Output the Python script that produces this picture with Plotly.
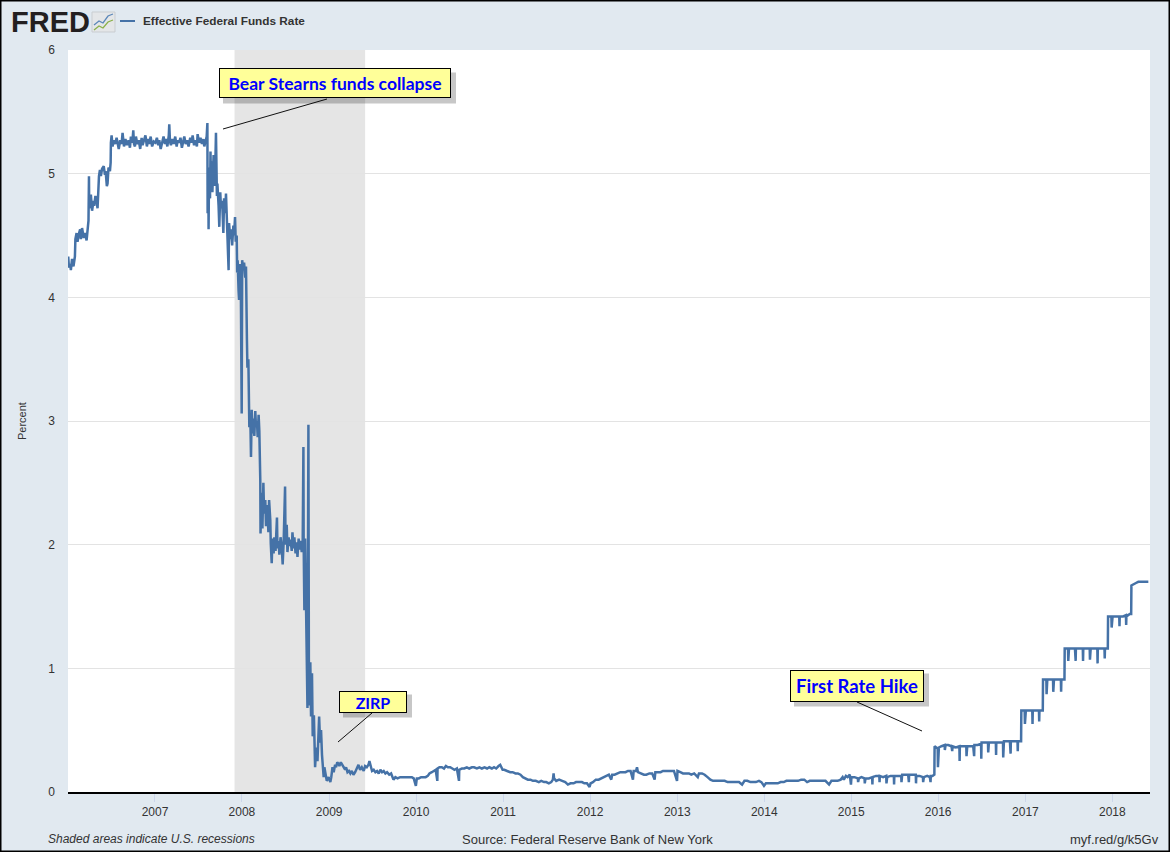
import plotly.graph_objects as go

# ---------------- data ----------------
p2006 = [("2006-01-02",4.33),("2006-01-05",4.24),("2006-01-10",4.27),("2006-01-13",4.22),("2006-01-18",4.31),
         ("2006-01-24",4.25),("2006-01-30",4.33),("2006-02-01",4.47),("2006-02-06",4.52),("2006-02-10",4.45),
         ("2006-02-15",4.51),("2006-02-21",4.55),("2006-02-24",4.47),("2006-03-01",4.56),("2006-03-08",4.48),
         ("2006-03-14",4.52),("2006-03-20",4.46),("2006-03-24",4.53),("2006-03-28",4.62),("2006-03-30",4.98),
         ("2006-03-31",4.72),("2006-04-04",4.77),("2006-04-07",4.83),("2006-04-12",4.70),("2006-04-18",4.78),
         ("2006-04-21",4.74),("2006-04-26",4.82),("2006-05-01",4.78),("2006-05-05",4.72),("2006-05-11",4.98),
         ("2006-05-15",5.03),("2006-05-19",4.98),("2006-05-24",5.04),("2006-05-31",5.06),("2006-06-05",4.99),
         ("2006-06-08",5.02),("2006-06-13",4.90),("2006-06-16",4.92),("2006-06-20",5.05),("2006-06-26",5.02),
         ("2006-06-29",5.09),("2006-06-30",5.25),("2006-07-03",5.31),("2006-07-07",5.22),("2006-07-12",5.27),
         ("2006-07-18",5.24),("2006-07-24",5.29),("2006-07-28",5.25),("2006-08-02",5.20),("2006-08-08",5.27),
         ("2006-08-14",5.24),("2006-08-18",5.33),("2006-08-24",5.22),("2006-08-30",5.28),("2006-09-05",5.23),
         ("2006-09-12",5.27),("2006-09-18",5.21),("2006-09-22",5.30),("2006-09-28",5.25),("2006-10-02",5.35),
         ("2006-10-05",5.24),("2006-10-09",5.22),("2006-10-13",5.30),("2006-10-19",5.24),("2006-10-25",5.27),
         ("2006-10-31",5.20),("2006-11-06",5.29),("2006-11-10",5.23),("2006-11-16",5.27),("2006-11-22",5.31),
         ("2006-11-28",5.22),("2006-12-04",5.28),("2006-12-08",5.24),("2006-12-14",5.30),("2006-12-20",5.22),
         ("2006-12-27",5.26)]

p2007 = [("2007-01-03",5.25),("2007-01-09",5.29),("2007-01-15",5.23),("2007-01-19",5.27),("2007-01-25",5.20),
         ("2007-01-31",5.26),("2007-02-06",5.30),("2007-02-12",5.24),("2007-02-16",5.28),("2007-02-22",5.22),
         ("2007-02-28",5.31),("2007-03-02",5.40),("2007-03-05",5.26),("2007-03-09",5.23),("2007-03-15",5.28),
         ("2007-03-21",5.24),("2007-03-27",5.30),("2007-04-02",5.22),("2007-04-06",5.27),("2007-04-12",5.25),
         ("2007-04-18",5.29),("2007-04-24",5.21),("2007-04-30",5.26),("2007-05-04",5.30),("2007-05-10",5.24),
         ("2007-05-16",5.27),("2007-05-22",5.22),("2007-05-29",5.29),("2007-06-04",5.25),("2007-06-08",5.31),
         ("2007-06-14",5.23),("2007-06-20",5.27),("2007-06-26",5.22),("2007-06-29",5.32),("2007-07-05",5.25),
         ("2007-07-11",5.29),("2007-07-17",5.24),("2007-07-23",5.28),("2007-07-27",5.22),("2007-08-01",5.27),
         ("2007-08-06",5.30),("2007-08-09",5.41),("2007-08-10",4.68),("2007-08-13",5.02),("2007-08-14",4.55),
         ("2007-08-16",5.05),("2007-08-20",4.80),("2007-08-22",5.18),("2007-08-24",4.92),("2007-08-28",5.10),
         ("2007-08-30",4.85),("2007-09-04",5.15),("2007-09-07",4.90),("2007-09-11",5.05),("2007-09-14",5.33),
         ("2007-09-18",4.82),("2007-09-20",4.92),("2007-09-25",4.74),("2007-09-28",4.57),("2007-10-02",4.85),
         ("2007-10-05",4.72),("2007-10-10",4.78),("2007-10-15",4.52),("2007-10-18",4.80),("2007-10-23",4.68),
         ("2007-10-26",4.84),("2007-10-31",4.62),("2007-11-02",4.50),("2007-11-06",4.22),("2007-11-08",4.60),
         ("2007-11-13",4.47),("2007-11-16",4.55),("2007-11-21",4.42),("2007-11-26",4.58),("2007-11-29",4.50),
         ("2007-12-03",4.65),("2007-12-06",4.45),("2007-12-10",4.50),("2007-12-12",4.20),("2007-12-14",4.30),
         ("2007-12-18",4.05),("2007-12-20",3.98),("2007-12-24",4.27),("2007-12-27",4.18),("2007-12-31",3.06)]

p2008 = [("2008-01-02",4.30),("2008-01-07",4.22),("2008-01-10",4.28),("2008-01-15",4.16),("2008-01-18",4.25),
         ("2008-01-22",3.65),("2008-01-24",3.43),("2008-01-28",3.50),("2008-01-30",3.03),("2008-02-01",2.95),
         ("2008-02-05",3.05),("2008-02-08",2.71),("2008-02-11",3.09),("2008-02-14",2.90),("2008-02-19",3.02),
         ("2008-02-22",2.88),("2008-02-26",3.08),("2008-02-29",2.95),("2008-03-04",3.00),("2008-03-07",2.87),
         ("2008-03-11",3.05),("2008-03-14",2.92),("2008-03-18",2.52),("2008-03-19",2.09),("2008-03-24",2.42),
         ("2008-03-27",2.13),("2008-03-31",2.50),("2008-04-03",2.25),("2008-04-08",2.36),("2008-04-11",2.15),
         ("2008-04-16",2.32),("2008-04-21",2.10),("2008-04-24",2.36),("2008-04-29",2.20),("2008-05-01",2.01),
         ("2008-05-05",1.85),("2008-05-08",2.05),("2008-05-13",1.93),("2008-05-16",2.06),("2008-05-21",1.95),
         ("2008-05-27",2.22),("2008-05-29",1.97),("2008-06-03",2.03),("2008-06-06",1.92),("2008-06-11",2.06),
         ("2008-06-16",1.98),("2008-06-20",1.84),("2008-06-24",2.02),("2008-06-30",2.47),("2008-07-02",2.00),
         ("2008-07-07",2.16),("2008-07-10",1.94),("2008-07-15",2.06),("2008-07-18",1.99),("2008-07-23",2.04),
         ("2008-07-28",1.95),("2008-07-31",2.10),("2008-08-05",1.97),("2008-08-08",2.06),("2008-08-13",1.93),
         ("2008-08-18",2.02),("2008-08-21",1.90),("2008-08-26",2.05),("2008-08-29",1.96),("2008-09-03",2.03),
         ("2008-09-08",1.94),("2008-09-12",2.02),("2008-09-15",2.79),("2008-09-16",2.02),("2008-09-19",1.47),
         ("2008-09-22",2.05),("2008-09-25",1.30),("2008-09-29",1.09),("2008-10-02",0.68),("2008-10-06",2.97),
         ("2008-10-08",0.95),("2008-10-10",0.70),("2008-10-14",1.05),("2008-10-17",0.61),("2008-10-21",0.96),
         ("2008-10-24",0.45),("2008-10-29",0.62),("2008-11-03",0.20),("2008-11-06",0.30),("2008-11-10",0.36),
         ("2008-11-13",0.25),("2008-11-17",0.42),("2008-11-20",0.61),("2008-11-24",0.40),("2008-11-28",0.50),
         ("2008-12-02",0.30),("2008-12-05",0.18),("2008-12-09",0.12),("2008-12-12",0.20),("2008-12-17",0.14),
         ("2008-12-22",0.09),("2008-12-30",0.12)]

p2009 = [("2009-01-02",0.10),("2009-01-06",0.08),("2009-01-10",0.12),("2009-01-15",0.20),("2009-01-20",0.16),
         ("2009-01-26",0.22),("2009-01-30",0.20),("2009-02-04",0.24),("2009-02-09",0.23),("2009-02-13",0.21),
         ("2009-02-19",0.24),("2009-02-25",0.22),("2009-03-03",0.20),("2009-03-09",0.18),("2009-03-13",0.20),
         ("2009-03-19",0.16),("2009-03-25",0.17),("2009-03-31",0.15),("2009-04-06",0.17),("2009-04-13",0.14),
         ("2009-04-20",0.16),("2009-04-27",0.19),("2009-05-04",0.22),("2009-05-11",0.18),("2009-05-18",0.20),
         ("2009-05-26",0.17),("2009-06-01",0.21),("2009-06-08",0.20),("2009-06-15",0.22),("2009-06-19",0.25),
         ("2009-06-24",0.21),("2009-06-30",0.17),("2009-07-07",0.18),("2009-07-14",0.16),("2009-07-21",0.17),
         ("2009-07-28",0.15),("2009-08-04",0.18),("2009-08-11",0.16),("2009-08-18",0.17),("2009-08-25",0.15),
         ("2009-09-01",0.16),("2009-09-10",0.14),("2009-09-18",0.15),("2009-09-28",0.10),("2009-10-06",0.12),
         ("2009-10-15",0.11),("2009-10-26",0.12),("2009-11-03",0.12),("2009-11-12",0.12),("2009-11-24",0.12),
         ("2009-12-03",0.12),("2009-12-14",0.12),("2009-12-22",0.11),("2009-12-31",0.05)]

p2010 = [("2010-01-04",0.11),("2010-01-12",0.11),("2010-01-22",0.12),("2010-02-01",0.12),("2010-02-10",0.12),
         ("2010-02-19",0.13),("2010-02-26",0.15),("2010-03-08",0.16),("2010-03-15",0.17),("2010-03-24",0.18),
         ("2010-03-31",0.09),("2010-04-01",0.19),("2010-04-09",0.20),("2010-04-19",0.20),("2010-04-28",0.19),
         ("2010-05-06",0.21),("2010-05-14",0.20),("2010-05-24",0.20),("2010-06-02",0.19),("2010-06-11",0.18),
         ("2010-06-21",0.19),("2010-06-30",0.09),("2010-07-01",0.18),("2010-07-12",0.19),("2010-07-22",0.19),
         ("2010-08-02",0.20),("2010-08-12",0.19),("2010-08-23",0.20),("2010-09-01",0.20),("2010-09-13",0.19),
         ("2010-09-24",0.20),("2010-10-04",0.19),("2010-10-15",0.20),("2010-10-26",0.19),("2010-11-04",0.20),
         ("2010-11-15",0.19),("2010-11-24",0.20),("2010-12-03",0.19),("2010-12-13",0.21),("2010-12-20",0.22),
         ("2010-12-30",0.18)]

p2011 = [("2011-01-06",0.18),("2011-01-18",0.17),("2011-01-31",0.16),("2011-02-10",0.16),("2011-02-22",0.15),
         ("2011-03-04",0.15),("2011-03-15",0.14),("2011-03-25",0.12),("2011-04-05",0.11),("2011-04-15",0.10),
         ("2011-04-26",0.10),("2011-05-06",0.09),("2011-05-18",0.09),("2011-05-31",0.08),("2011-06-10",0.09),
         ("2011-06-22",0.08),("2011-07-01",0.08),("2011-07-12",0.07),("2011-07-22",0.08),("2011-07-29",0.10),
         ("2011-08-01",0.15),("2011-08-03",0.11),("2011-08-12",0.09),("2011-08-24",0.10),("2011-09-06",0.09),
         ("2011-09-19",0.08),("2011-09-30",0.06),("2011-10-11",0.07),("2011-10-24",0.07),("2011-11-03",0.08),
         ("2011-11-15",0.08),("2011-11-28",0.08),("2011-12-08",0.07),("2011-12-19",0.07),("2011-12-30",0.04)]

p2012 = [("2012-01-03",0.07),("2012-01-13",0.08),("2012-01-25",0.10),("2012-02-06",0.10),("2012-02-16",0.11),
         ("2012-02-28",0.12),("2012-03-09",0.13),("2012-03-20",0.14),("2012-03-30",0.10),("2012-04-03",0.14),
         ("2012-04-13",0.14),("2012-04-25",0.15),("2012-05-07",0.16),("2012-05-17",0.16),("2012-05-29",0.16),
         ("2012-06-08",0.17),("2012-06-19",0.17),("2012-06-29",0.10),("2012-07-02",0.17),("2012-07-12",0.17),
         ("2012-07-16",0.20),("2012-07-20",0.16),("2012-08-01",0.15),("2012-08-14",0.14),("2012-08-24",0.14),
         ("2012-09-06",0.15),("2012-09-18",0.15),("2012-09-28",0.10),("2012-10-01",0.16),("2012-10-11",0.16),
         ("2012-10-23",0.16),("2012-11-02",0.17),("2012-11-14",0.17),("2012-11-26",0.17),("2012-12-06",0.17),
         ("2012-12-18",0.17),("2012-12-31",0.09)]

p2013 = [("2013-01-02",0.17),("2013-01-14",0.16),("2013-01-25",0.15),("2013-02-06",0.15),("2013-02-19",0.15),
         ("2013-03-01",0.14),("2013-03-13",0.15),("2013-03-28",0.12),("2013-04-02",0.15),("2013-04-15",0.15),
         ("2013-04-26",0.14),("2013-05-08",0.12),("2013-05-20",0.10),("2013-05-31",0.09),("2013-06-12",0.09),
         ("2013-06-25",0.09),("2013-07-08",0.09),("2013-07-19",0.09),("2013-07-31",0.08),("2013-08-12",0.08),
         ("2013-08-23",0.08),("2013-09-05",0.08),("2013-09-17",0.08),("2013-09-30",0.06),("2013-10-10",0.09),
         ("2013-10-22",0.09),("2013-11-04",0.08),("2013-11-15",0.08),("2013-11-27",0.08),("2013-12-10",0.09),
         ("2013-12-20",0.08),("2013-12-31",0.05)]

p2014 = [("2014-01-08",0.07),("2014-01-21",0.07),("2014-02-03",0.07),("2014-02-14",0.07),("2014-02-27",0.07),
         ("2014-03-11",0.08),("2014-03-24",0.08),("2014-04-04",0.09),("2014-04-17",0.09),("2014-04-30",0.09),
         ("2014-05-12",0.09),("2014-05-23",0.09),("2014-06-05",0.10),("2014-06-18",0.10),("2014-06-30",0.08),
         ("2014-07-11",0.09),("2014-07-24",0.09),("2014-08-06",0.09),("2014-08-19",0.09),("2014-09-02",0.09),
         ("2014-09-15",0.09),("2014-09-30",0.06),("2014-10-10",0.09),("2014-10-23",0.09),("2014-11-05",0.09),
         ("2014-11-18",0.10),("2014-11-26",0.12),("2014-12-01",0.10),("2014-12-10",0.13),("2014-12-17",0.12),
         ("2014-12-26",0.14),("2014-12-31",0.06)]

p2015 = [("2015-01-02",0.12),("2015-01-15",0.12),("2015-01-29",0.11),("2015-01-30",0.08),("2015-02-02",0.11),
         ("2015-02-13",0.12),("2015-02-26",0.11),("2015-02-27",0.07),("2015-03-02",0.11),("2015-03-16",0.11),
         ("2015-03-30",0.12),("2015-03-31",0.06),("2015-04-01",0.12),("2015-04-15",0.13),("2015-04-29",0.13),
         ("2015-04-30",0.08),("2015-05-01",0.13),("2015-05-15",0.12),("2015-05-28",0.13),("2015-05-29",0.07),
         ("2015-06-01",0.12),("2015-06-15",0.13),("2015-06-29",0.13),("2015-06-30",0.06),("2015-07-01",0.13),
         ("2015-07-15",0.13),("2015-07-30",0.13),("2015-07-31",0.08),("2015-08-03",0.14),("2015-08-14",0.14),
         ("2015-08-28",0.14),("2015-08-31",0.08),("2015-09-01",0.14),("2015-09-15",0.14),("2015-09-29",0.14),
         ("2015-09-30",0.07),("2015-10-01",0.13),("2015-10-15",0.13),("2015-10-29",0.12),("2015-10-30",0.08),
         ("2015-11-02",0.12),("2015-11-16",0.13),("2015-11-27",0.12),("2015-11-30",0.08),("2015-12-01",0.13),
         ("2015-12-08",0.13),("2015-12-16",0.14),("2015-12-17",0.37),("2015-12-22",0.36),("2015-12-30",0.35),
         ("2015-12-31",0.20)]

p2016 = [("2016-01-04",0.36),("2016-01-15",0.37),("2016-01-28",0.38),("2016-01-29",0.34),("2016-02-01",0.38),
         ("2016-02-12",0.38),("2016-02-26",0.37),("2016-02-29",0.33),("2016-03-01",0.37),("2016-03-15",0.36),
         ("2016-03-30",0.37),("2016-03-31",0.25),("2016-04-01",0.37),("2016-04-14",0.37),("2016-04-28",0.37),
         ("2016-04-29",0.29),("2016-05-02",0.37),("2016-05-16",0.37),("2016-05-27",0.37),("2016-05-31",0.29),
         ("2016-06-01",0.38),("2016-06-15",0.38),("2016-06-29",0.39),("2016-06-30",0.27),("2016-07-01",0.40),
         ("2016-07-15",0.40),("2016-07-28",0.40),("2016-07-29",0.32),("2016-08-01",0.40),("2016-08-15",0.40),
         ("2016-08-30",0.40),("2016-08-31",0.30),("2016-09-01",0.40),("2016-09-15",0.40),("2016-09-29",0.40),
         ("2016-09-30",0.28),("2016-10-03",0.41),("2016-10-14",0.41),("2016-10-28",0.41),("2016-10-31",0.31),
         ("2016-11-01",0.41),("2016-11-15",0.41),("2016-11-29",0.41),("2016-11-30",0.33),("2016-12-01",0.41),
         ("2016-12-14",0.41),("2016-12-15",0.66),("2016-12-29",0.66),("2016-12-30",0.55)]

p2017 = [("2017-01-03",0.66),("2017-01-17",0.66),("2017-01-30",0.66),("2017-01-31",0.55),("2017-02-01",0.66),
         ("2017-02-15",0.66),("2017-02-27",0.66),("2017-02-28",0.57),("2017-03-01",0.66),("2017-03-15",0.66),
         ("2017-03-16",0.91),("2017-03-30",0.91),("2017-03-31",0.79),("2017-04-03",0.91),("2017-04-14",0.91),
         ("2017-04-27",0.91),("2017-04-28",0.81),("2017-05-01",0.91),("2017-05-15",0.91),("2017-05-30",0.91),
         ("2017-05-31",0.81),("2017-06-01",0.91),("2017-06-14",0.91),("2017-06-15",1.16),("2017-06-29",1.16),
         ("2017-06-30",1.06),("2017-07-03",1.16),("2017-07-17",1.16),("2017-07-28",1.16),("2017-07-31",1.06),
         ("2017-08-01",1.16),("2017-08-15",1.16),("2017-08-30",1.16),("2017-08-31",1.06),("2017-09-01",1.16),
         ("2017-09-15",1.16),("2017-09-28",1.16),("2017-09-29",1.07),("2017-10-02",1.16),("2017-10-16",1.16),
         ("2017-10-30",1.16),("2017-10-31",1.04),("2017-11-01",1.16),("2017-11-15",1.16),("2017-11-29",1.16),
         ("2017-11-30",1.08),("2017-12-01",1.16),("2017-12-13",1.16),("2017-12-14",1.42),("2017-12-28",1.42),
         ("2017-12-29",1.33)]

p2018 = [("2018-01-02",1.42),("2018-01-16",1.42),("2018-01-30",1.42),("2018-01-31",1.34),("2018-02-01",1.42),
         ("2018-02-15",1.42),("2018-02-27",1.43),("2018-02-28",1.35),("2018-03-01",1.42),("2018-03-15",1.44),
         ("2018-03-21",1.44),("2018-03-22",1.67),("2018-03-29",1.68),("2018-04-10",1.69),("2018-04-20",1.70),
         ("2018-05-01",1.70),("2018-05-15",1.70),("2018-06-01",1.70)]

recession_start = "2007-12-01"
recession_end = "2009-06-01"
year_ticks = ["2007-01-01","2008-01-01","2009-01-01","2010-01-01","2011-01-01","2012-01-01",
              "2013-01-01","2014-01-01","2015-01-01","2016-01-01","2017-01-01","2018-01-01"]
year_labels = ["2007","2008","2009","2010","2011","2012","2013","2014","2015","2016","2017","2018"]
y_ticks = [0, 1, 2, 3, 4, 5, 6]

obs = sorted(p2006 + p2007 + p2008 + p2009 + p2010 + p2011 + p2012 + p2013 + p2014 + p2015 + p2016 + p2017 + p2018)
dates = [d for d, _ in obs]
rate = [v for _, v in obs]

# ---------------- layout helpers (pixel -> paper) ----------------
W, H = 1170, 852
L, R, T, B = 68, 20, 50, 60
PW, PH = W - L - R, H - T - B
def PX(x): return (x - L) / PW
def PY(y): return (H - B - y) / PH

BLUE = "#4572a7"
TXT = "#333333"
FONT = "Liberation Sans"

fig = go.Figure()
fig.add_trace(go.Scatter(x=dates, y=rate, mode="lines",
                         line=dict(color=BLUE, width=2.5), showlegend=False,
                         name="Effective Federal Funds Rate"))

shapes = []
# recession band
shapes.append(dict(type="rect", xref="x", yref="paper", x0=recession_start, x1=recession_end,
                   y0=0, y1=1, fillcolor="#e5e5e5", line=dict(width=0), layer="below"))
# legend line sample
shapes.append(dict(type="line", xref="paper", yref="paper", x0=PX(120), x1=PX(135), y0=PY(21), y1=PY(21),
                   line=dict(color=BLUE, width=2)))
# FRED icon
shapes.append(dict(type="rect", xref="paper", yref="paper", x0=PX(92), x1=PX(115), y0=PY(32), y1=PY(12),
                   fillcolor="#e4e6e8", line=dict(color="#c9cdd1", width=1)))
def path(pts):
    return "M " + " L ".join(f"{PX(a)},{PY(b)}" for a, b in pts)
shapes.append(dict(type="path", xref="paper", yref="paper",
                   path=path([(94, 25), (99, 21), (103, 23), (108, 16), (113, 14)]),
                   line=dict(color="#5b87b9", width=1.3)))
shapes.append(dict(type="path", xref="paper", yref="paper",
                   path=path([(94, 30), (99, 26), (103, 28), (108, 22), (113, 20)]),
                   line=dict(color="#8ab04a", width=1.3)))

# annotation boxes: (text, cx, cy, w, h, font size, line from, line to)
callouts = [
    ("Bear Stearns funds collapse", 335, 83.5, 232, 30, 17.5, (223, 129), (327, 99)),
    ("ZIRP", 373, 701.5, 68, 22, 16, (338, 742), (372, 713)),
    ("First Rate Hike", 857, 685.5, 134, 32, 18.5, (857, 702), (922, 731)),
]
annotations = []
for text, cx, cy, w, h, fs, p0, p1 in callouts:
    shapes.append(dict(type="line", xref="paper", yref="paper", x0=PX(p0[0]), y0=PY(p0[1]),
                       x1=PX(p1[0]), y1=PY(p1[1]), line=dict(color="#111111", width=1)))
    shapes.append(dict(type="rect", xref="paper", yref="paper",
                       x0=PX(cx - w / 2 + 4), x1=PX(cx + w / 2 + 5), y0=PY(cy + h / 2 + 5), y1=PY(cy - h / 2 + 4),
                       fillcolor="rgba(0,0,0,0.22)", line=dict(width=0)))
    annotations.append(dict(text=f"<b>{text}</b>", xref="paper", yref="paper", x=PX(cx), y=PY(cy),
                            xanchor="center", yanchor="middle", showarrow=False,
                            width=w - 2, height=h - 2, borderpad=0, bgcolor="#ffff99",
                            bordercolor="#000000", borderwidth=1,
                            font=dict(family="Lato", size=fs, color="#0000ff")))

# outer black frame
shapes.append(dict(type="rect", xref="paper", yref="paper", x0=PX(0), x1=PX(W), y0=PY(H), y1=PY(0),
                   line=dict(color="#000000", width=3), fillcolor="rgba(0,0,0,0)"))

annotations += [
    dict(text="<b>FRED</b>", xref="paper", yref="paper", x=PX(9), y=PY(22), xanchor="left", yanchor="middle",
         showarrow=False, font=dict(family=FONT, size=29, color="#231f20")),
    dict(text="<b>Effective Federal Funds Rate</b>", xref="paper", yref="paper", x=PX(141), y=PY(21),
         xanchor="left", yanchor="middle", showarrow=False, font=dict(family=FONT, size=11.8, color=TXT)),
    dict(text="Percent", xref="paper", yref="paper", x=PX(22), y=PY(421), textangle=-90,
         xanchor="center", yanchor="middle", showarrow=False, font=dict(family=FONT, size=11, color=TXT)),
    dict(text="<i>Shaded areas indicate U.S. recessions</i>", xref="paper", yref="paper", x=PX(46), y=PY(839),
         xanchor="left", yanchor="middle", showarrow=False, font=dict(family=FONT, size=12, color=TXT)),
    dict(text="Source: Federal Reserve Bank of New York", xref="paper", yref="paper", x=PX(587), y=PY(839),
         xanchor="center", yanchor="middle", showarrow=False, font=dict(family=FONT, size=13, color=TXT)),
    dict(text="myf.red/g/k5Gv", xref="paper", yref="paper", x=PX(1161), y=PY(839),
         xanchor="right", yanchor="middle", showarrow=False, font=dict(family=FONT, size=13, color=TXT)),
]

fig.update_layout(
    width=W, height=H, autosize=False,
    margin=dict(l=L, r=R, t=T, b=B, pad=0),
    paper_bgcolor="#e1e9f0", plot_bgcolor="#ffffff",
    font=dict(family=FONT, size=12, color=TXT),
    shapes=shapes, annotations=annotations, showlegend=False,
    xaxis=dict(type="date", range=["2006-01-01", "2018-06-08"], tickvals=year_ticks, ticktext=year_labels,
               showgrid=False, zeroline=False, showline=True, linecolor="#000000", linewidth=2,
               ticks="outside", ticklen=8, tickcolor="#ccd6eb", tickwidth=1,
               tickfont=dict(family=FONT, size=12, color=TXT)),
    yaxis=dict(range=[0, 6], tickvals=y_ticks, showgrid=True, gridcolor="#e3e3e3", gridwidth=1,
               zeroline=False, showline=False, ticks="", ticklabelstandoff=12,
               tickfont=dict(family=FONT, size=12, color=TXT)),
)

fig.write_html("out.html")
